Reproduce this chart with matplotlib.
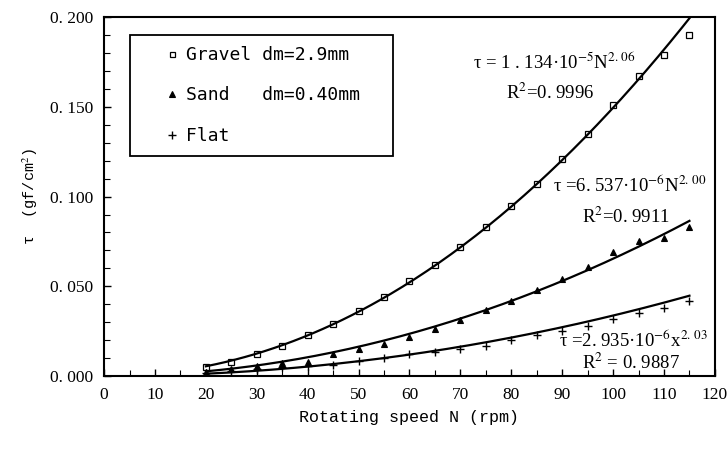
import numpy as np
import matplotlib
matplotlib.use('Agg')
import matplotlib.pyplot as plt
from matplotlib.ticker import MultipleLocator, FuncFormatter

# rotating speed (rpm) and measured shear stress (gf/cm2)
speed = [20, 25, 30, 35, 40, 45, 50, 55, 60, 65, 70, 75, 80, 85, 90, 95, 100, 105, 110, 115]
gravel = [0.005, 0.008, 0.012, 0.017, 0.023, 0.029, 0.036, 0.044, 0.053, 0.062,
          0.072, 0.083, 0.095, 0.107, 0.121, 0.135, 0.151, 0.167, 0.179, 0.190]
sand = [0.002, 0.004, 0.0055, 0.007, 0.008, 0.012, 0.015, 0.018, 0.022, 0.026,
        0.031, 0.037, 0.042, 0.048, 0.054, 0.061, 0.069, 0.075, 0.077, 0.083]
flat = [0.0015, 0.003, 0.004, 0.005, 0.0055, 0.006, 0.0085, 0.010, 0.012, 0.0135,
        0.015, 0.017, 0.020, 0.023, 0.025, 0.028, 0.032, 0.035, 0.038, 0.042]

# power-law trend lines as printed on the chart: tau = a * N^b
fit_a = [1.134e-5, 6.537e-6, 2.935e-6]
fit_b = [2.06, 2.00, 2.03]

labels = ["Gravel dm=2.9mm", "Sand   dm=0.40mm", "Flat"]

plt.rcParams['mathtext.fontset'] = 'stix'
serif = 'Liberation Serif'
mono = 'Liberation Mono'

fig = plt.figure(figsize=(7.28, 4.5), dpi=100)
ax = fig.add_axes([0.143, 0.1644, 0.839, 0.7976])

series = [gravel, sand, flat]
styles = [dict(marker='s', mfc='white', ms=4, mew=0.9),
          dict(marker='^', mfc='black', ms=4.5, mew=0.8),
          dict(marker='+', ms=6, mew=1.0)]

for vals, st, lab in zip(series, styles, labels):
    ax.plot(speed, vals, linestyle='none', color='black', label=lab, **st)

n = np.linspace(speed[0], speed[-1], 200)
for a, b in zip(fit_a, fit_b):
    ax.plot(n, a * n ** b, color='black', lw=1.6)

ax.set_xlim(0, 120)
ax.set_ylim(0, 0.2)
ax.xaxis.set_major_locator(MultipleLocator(10))
ax.xaxis.set_minor_locator(MultipleLocator(5))
ax.yaxis.set_major_locator(MultipleLocator(0.05))
ax.yaxis.set_minor_locator(MultipleLocator(0.01))
ax.yaxis.set_major_formatter(FuncFormatter(lambda v, p: f"{v:.3f}".replace('.', '. ')))
ax.tick_params(which='both', direction='in', top=False, right=False)
ax.tick_params(which='major', length=5, width=1, labelsize=12.5, pad=8)
ax.tick_params(which='minor', length=4, width=0.8)
for lbl in ax.get_xticklabels() + ax.get_yticklabels():
    lbl.set_family(serif)
for sp in ax.spines.values():
    sp.set_linewidth(1.5)

ax.set_xlabel("Rotating speed N (rpm)", family=mono, fontsize=12, labelpad=5)
ax.set_ylabel("τ  (gf/cm$^2$)", family=mono, fontsize=11, labelpad=7)

eq_kw = dict(ha='center', va='center', family=serif, fontsize=13.5)
ax.text(88.4, 0.175, r"τ = 1 . 134·10$^{-5}$N$^{2.\,06}$", **eq_kw)
ax.text(87.6, 0.158, r"R$^2$=0. 9996", **eq_kw)
ax.text(103.3, 0.1064, r"τ =6. 537·10$^{-6}$N$^{2.\,00}$", **eq_kw)
ax.text(102.5, 0.0886, r"R$^2$=0. 9911", **eq_kw)
ax.text(104.0, 0.020, r"τ =2. 935·10$^{-6}$x$^{2.\,03}$", **eq_kw)
ax.text(103.5, 0.0072, r"R$^2$ = 0. 9887", **eq_kw)

leg = ax.legend(loc='upper left', bbox_to_anchor=(0.0426, 0.95), borderaxespad=0,
                prop={'family': 'DejaVu Sans Mono', 'size': 13}, handlelength=3.4,
                handletextpad=-0.9, labelspacing=1.25, borderpad=0.6,
                fancybox=False, edgecolor='black', framealpha=1, markerscale=0.9)
leg.get_frame().set_linewidth(1.3)
# widen the legend box toward the right like the reference
for t in leg.get_texts():
    t.set_text(t.get_text().ljust(18))

fig.savefig('out.png', dpi=100)
